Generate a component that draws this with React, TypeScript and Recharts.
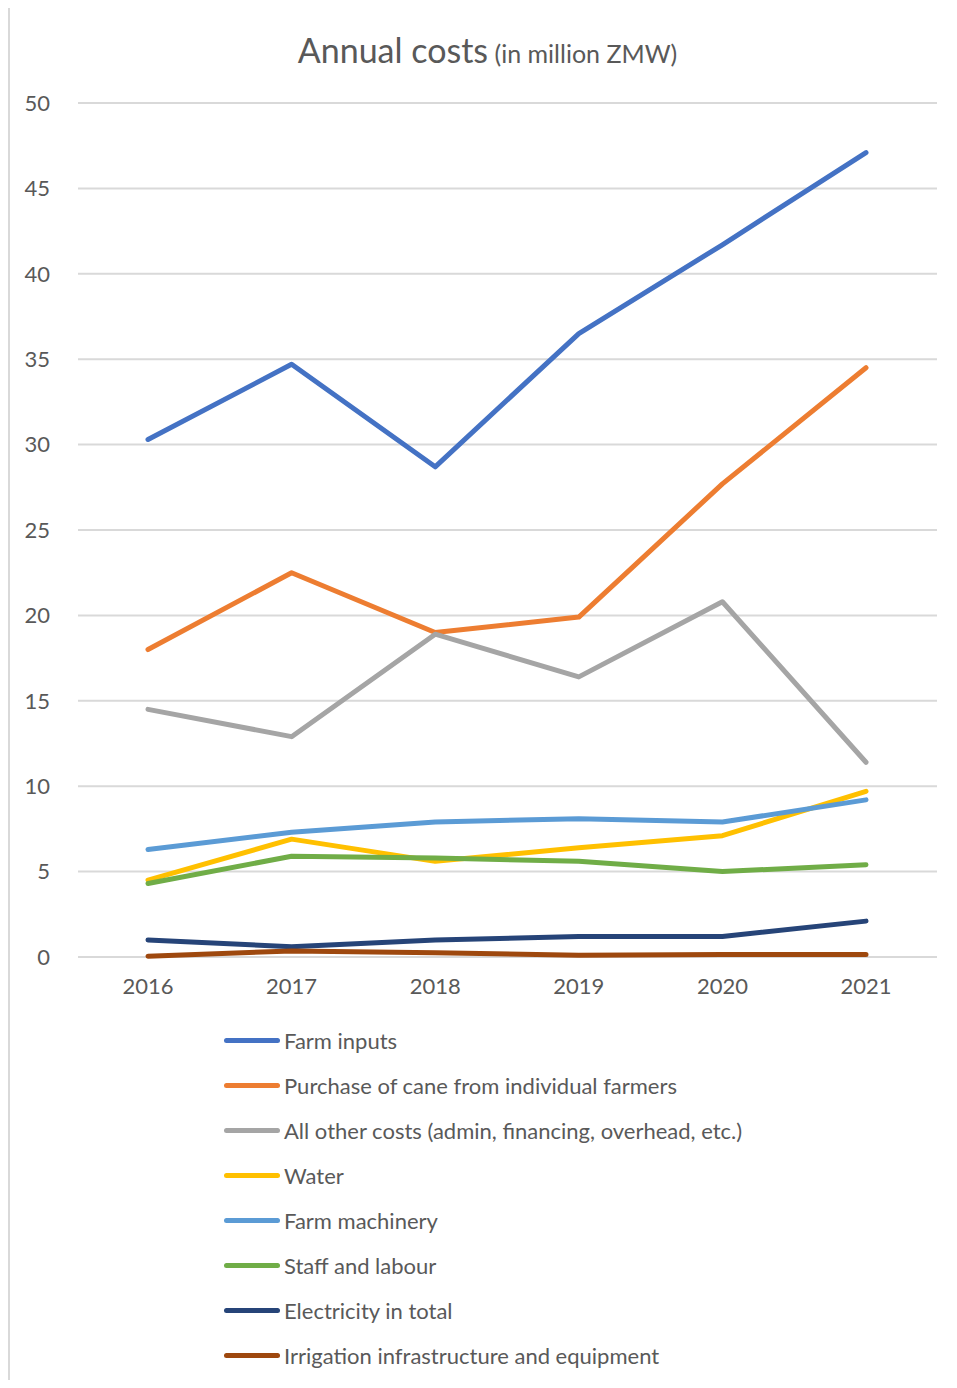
import { LineChart, Line, XAxis, YAxis, CartesianGrid } from "recharts";

const years = ["2016", "2017", "2018", "2019", "2020", "2021"];
const farmInputs = [30.3, 34.7, 28.7, 36.5, 41.7, 47.1];
const purchaseCane = [18.0, 22.5, 19.0, 19.9, 27.7, 34.5];
const otherCosts = [14.5, 12.9, 18.9, 16.4, 20.8, 11.4];
const water = [4.5, 6.9, 5.6, 6.4, 7.1, 9.7];
const machinery = [6.3, 7.3, 7.9, 8.1, 7.9, 9.2];
const staff = [4.3, 5.9, 5.8, 5.6, 5.0, 5.4];
const electricity = [1.0, 0.6, 1.0, 1.2, 1.2, 2.1];
const irrigation = [0.05, 0.35, 0.25, 0.1, 0.15, 0.15];
const yTicks = [0, 5, 10, 15, 20, 25, 30, 35, 40, 45, 50];

const series = [
  { key: "farmInputs", name: "Farm inputs", color: "#4472C4", values: farmInputs },
  { key: "purchaseCane", name: "Purchase of cane from individual farmers", color: "#ED7D31", values: purchaseCane },
  { key: "otherCosts", name: "All other costs (admin, financing, overhead, etc.)", color: "#A5A5A5", values: otherCosts },
  { key: "water", name: "Water", color: "#FFC000", values: water },
  { key: "machinery", name: "Farm machinery", color: "#5B9BD5", values: machinery },
  { key: "staff", name: "Staff and labour", color: "#70AD47", values: staff },
  { key: "electricity", name: "Electricity in total", color: "#264478", values: electricity },
  { key: "irrigation", name: "Irrigation infrastructure and equipment", color: "#9E480E", values: irrigation },
];

const data = years.map((year, i) => {
  const row: Record<string, string | number> = { year };
  series.forEach((s) => (row[s.key] = s.values[i]));
  return row;
});

const font = "Lato, 'Open Sans', sans-serif";
const textColor = "#595959";

export default function App() {
  return (
    <div
      style={{
        position: "relative",
        marginTop: -3,
        marginBottom: -8,
        width: 949,
        height: 1383,
        boxSizing: "border-box",
        borderTop: "2px solid #d9d9d9",
        borderLeft: "2px solid #d9d9d9",
        borderBottom: "2px solid #d9d9d9",
        fontFamily: font,
        color: textColor,
        background: "#fff",
      }}
    >
      <div
        style={{
          position: "absolute",
          top: 22,
          left: 8,
          right: 0,
          textAlign: "center",
          lineHeight: "42px",
          whiteSpace: "nowrap",
        }}
      >
        <span style={{ fontSize: 34 }}>Annual costs</span>
        <span style={{ fontSize: 25 }}> (in million ZMW)</span>
      </div>
      <LineChart
        width={947}
        height={1000}
        data={data}
        margin={{ top: 96, right: 20, bottom: 10, left: 0 }}
      >
        <CartesianGrid vertical={false} stroke="#d9d9d9" strokeWidth={2} />
        <XAxis
          dataKey="year"
          axisLine={false}
          tickLine={false}
          tickMargin={15}
          height={40}
          padding={{ left: 70, right: 71 }}
          tick={{ fill: textColor, fontSize: 22, fontFamily: font }}
        />
        <YAxis
          domain={[0, 50]}
          ticks={yTicks}
          width={68}
          axisLine={false}
          tickLine={false}
          tickMargin={22}
          tick={{ fill: textColor, fontSize: 22, fontFamily: font }}
        />
        {series.map((s) => (
          <Line
            key={s.key}
            dataKey={s.key}
            name={s.name}
            stroke={s.color}
            strokeWidth={5}
            strokeLinecap="round"
            strokeLinejoin="round"
            dot={false}
            isAnimationActive={false}
          />
        ))}
      </LineChart>
      <div style={{ position: "absolute", top: 1011, left: 214 }}>
        {series.map((s) => (
          <div
            key={s.key}
            style={{ display: "flex", alignItems: "center", height: 45, fontSize: 22, whiteSpace: "nowrap" }}
          >
            <span
              style={{
                display: "inline-block",
                width: 56,
                height: 5,
                borderRadius: 3,
                background: s.color,
                marginRight: 4,
              }}
            />
            {s.name}
          </div>
        ))}
      </div>
    </div>
  );
}
